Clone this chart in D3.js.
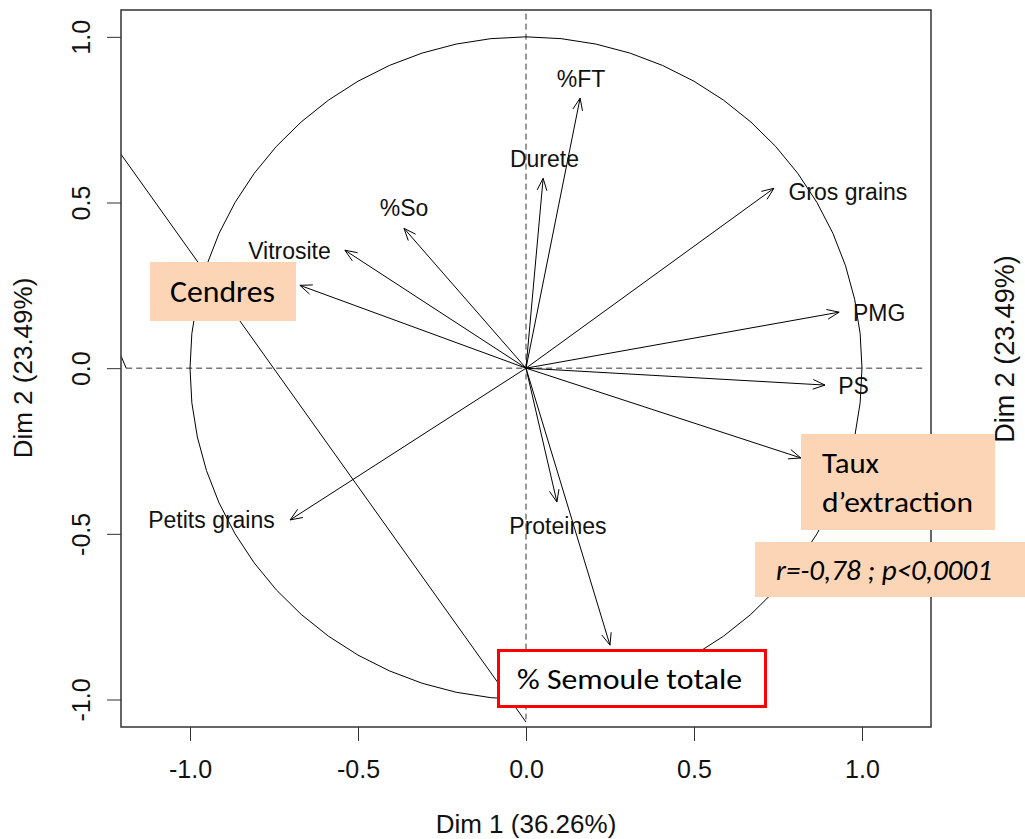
<!DOCTYPE html>
<html>
<head>
<meta charset="utf-8">
<script src="https://cdn.jsdelivr.net/npm/d3@7"></script>
<style>
  body { margin: 0; background: #fff; }
  svg { display: block; }
</style>
</head>
<body>
<div id="chart"></div>
<script>
// variables of the PCA correlation circle (arrow tips, Dim 1 / Dim 2)
const variables = ["%FT", "Durete", "%So", "Vitrosite", "Cendres", "Gros grains",
  "PMG", "PS", "Taux d'extraction", "Petits grains", "Proteines", "% Semoule totale"];
const dim1 = [0.161, 0.051, -0.363, -0.539, -0.673, 0.738, 0.932, 0.890, 0.818, -0.702, 0.092, 0.250];
const dim2 = [0.815, 0.573, 0.422, 0.356, 0.250, 0.543, 0.169, -0.051, -0.271, -0.458, -0.404, -0.836];

// where R wrote the variable names (null = hidden under a callout box)
const labelDim1 = [0.164, 0.055, -0.363, -0.704, null, 0.958, 1.051, 0.975, null, -0.936, 0.095, null];
const labelDim2 = [0.875, 0.633, 0.483, 0.353, null, 0.534, 0.166, -0.054, null, -0.458, -0.477, null];

const tickValues = [-1.0, -0.5, 0.0, 0.5, 1.0];
const tickLabels = ["-1.0", "-0.5", "0.0", "0.5", "1.0"];
const xTitle = "Dim 1 (36.26%)";
const yTitle = "Dim 2 (23.49%)";

// stray segments left over in the original figure
const strayX = [[-1.21, 0.0], [-1.21, -1.19]];
const strayY = [[0.652, -1.068], [0.048, 0.0]];

const w = 1025;
const h = 839;
const margin = {top: 10, right: 94, bottom: 112, left: 121};
const innerW = w - margin.left - margin.right;
const innerH = h - margin.top - margin.bottom;

const svg = d3.select("#chart").append("svg")
  .attr("width", w)
  .attr("height", h)
  .attr("viewBox", [0, 0, w, h]);

const g = svg.append("g")
  .attr("transform", "translate(" + margin.left + "," + margin.top + ")");

const xScale = d3.scaleLinear().domain([-1.2054, 1.2054]).range([0, innerW]);
const yScale = d3.scaleLinear().domain([-1.083, 1.081]).range([innerH, 0]);

svg.append("defs").append("clipPath").attr("id", "clip")
  .append("rect").attr("width", innerW).attr("height", innerH);

const plot = g.append("g").attr("clip-path", "url(#clip)");

// dashed axes through the origin
plot.append("line")
  .attr("x1", xScale(-1.19)).attr("x2", xScale(1.18))
  .attr("y1", yScale(0)).attr("y2", yScale(0))
  .attr("stroke", "#333").attr("stroke-dasharray", "6,4");
plot.append("line")
  .attr("x1", xScale(0)).attr("x2", xScale(0))
  .attr("y1", yScale(1.07)).attr("y2", yScale(-1.06))
  .attr("stroke", "#333").attr("stroke-dasharray", "6,4");

// unit circle (R draws it as a polygon)
const angles = d3.range(0, 361, 6).map(a => a * Math.PI / 180);
plot.append("path")
  .attr("d", d3.line().x(a => xScale(Math.cos(a))).y(a => yScale(Math.sin(a)))(angles))
  .attr("fill", "none").attr("stroke", "#000").attr("stroke-width", 1);

// stray lines
strayX.forEach((xs, i) => {
  plot.append("line")
    .attr("x1", xScale(xs[0])).attr("y1", yScale(strayY[i][0]))
    .attr("x2", xScale(xs[1])).attr("y2", yScale(strayY[i][1]))
    .attr("stroke", "#000").attr("stroke-width", 1);
});

// arrows
const head = 13, spread = 22 * Math.PI / 180;
variables.forEach((v, i) => {
  const x0 = xScale(0), y0 = yScale(0);
  const x1 = xScale(dim1[i]), y1 = yScale(dim2[i]);
  const ang = Math.atan2(y1 - y0, x1 - x0);
  plot.append("line")
    .attr("x1", x0).attr("y1", y0).attr("x2", x1).attr("y2", y1)
    .attr("stroke", "#000").attr("stroke-width", 1);
  plot.append("path")
    .attr("d", "M" + (x1 - head * Math.cos(ang - spread)) + "," + (y1 - head * Math.sin(ang - spread)) +
      "L" + x1 + "," + y1 +
      "L" + (x1 - head * Math.cos(ang + spread)) + "," + (y1 - head * Math.sin(ang + spread)))
    .attr("fill", "none").attr("stroke", "#000").attr("stroke-width", 1);
  if (labelDim1[i] !== null) {
    g.append("text")
      .attr("x", xScale(labelDim1[i]))
      .attr("y", yScale(labelDim2[i]))
      .attr("dy", "0.36em")
      .attr("text-anchor", "middle")
      .attr("font-family", "'Liberation Sans', Arial, sans-serif")
      .attr("font-size", 23)
      .attr("fill", "#111")
      .text(v);
  }
});

// frame
g.append("rect")
  .attr("width", innerW).attr("height", innerH)
  .attr("fill", "none").attr("stroke", "#333").attr("stroke-width", 1.5);

// axes
const xAxisG = g.append("g").attr("transform", "translate(0," + innerH + ")");
const yAxisG = g.append("g");
xAxisG.call(d3.axisBottom(xScale).tickValues(tickValues).tickFormat((d, i) => tickLabels[i]).tickSize(14));
yAxisG.call(d3.axisLeft(yScale).tickValues(tickValues).tickFormat((d, i) => tickLabels[i]).tickSize(14));
[xAxisG, yAxisG].forEach(a => {
  a.select(".domain").remove();
  a.selectAll(".tick line").attr("stroke", "#333");
  a.selectAll("text")
    .attr("font-family", "'Liberation Sans', Arial, sans-serif")
    .attr("font-size", 25)
    .attr("fill", "#111");
});
xAxisG.selectAll("text").attr("y", 51).attr("dy", 0);
yAxisG.selectAll("text")
  .attr("transform", "rotate(-90)")
  .attr("x", 0).attr("y", -31).attr("dy", 0)
  .attr("text-anchor", "middle");

// axis titles
svg.append("text")
  .attr("x", xScale(0) + margin.left).attr("y", 833)
  .attr("text-anchor", "middle")
  .attr("font-family", "'Liberation Sans', Arial, sans-serif")
  .attr("font-size", 26).attr("fill", "#111")
  .text(xTitle);
svg.append("text")
  .attr("transform", "translate(32," + 368 + ") rotate(-90)")
  .attr("text-anchor", "middle")
  .attr("font-family", "'Liberation Sans', Arial, sans-serif")
  .attr("font-size", 26).attr("fill", "#111")
  .text(yTitle);
svg.append("text")
  .attr("transform", "translate(1014," + 349 + ") rotate(-90)")
  .attr("text-anchor", "middle")
  .attr("font-family", "'Liberation Sans', Arial, sans-serif")
  .attr("font-size", 27).attr("fill", "#111")
  .text(yTitle);

// callout boxes pasted over the figure
const calloutFont = "Carlito, Calibri, Lato, 'Open Sans', sans-serif";
const peach = "#fbd5b5";

svg.append("rect").attr("x", 150).attr("y", 262).attr("width", 146).attr("height", 59).attr("fill", peach);
svg.append("text").attr("x", 170).attr("y", 302)
  .attr("font-family", calloutFont).attr("font-size", 30)
  .attr("textLength", 105).attr("lengthAdjust", "spacingAndGlyphs")
  .text("Cendres");

svg.append("rect").attr("x", 801).attr("y", 434).attr("width", 194).attr("height", 96).attr("fill", peach);
svg.append("text").attr("x", 822).attr("y", 473)
  .attr("font-family", calloutFont).attr("font-size", 28)
  .attr("textLength", 57).attr("lengthAdjust", "spacingAndGlyphs")
  .text("Taux");
svg.append("text").attr("x", 822).attr("y", 512)
  .attr("font-family", calloutFont).attr("font-size", 28)
  .attr("textLength", 151).attr("lengthAdjust", "spacingAndGlyphs")
  .text("d\u2019extraction");

svg.append("rect").attr("x", 755).attr("y", 542).attr("width", 270).attr("height", 55).attr("fill", peach);
svg.append("text").attr("x", 776).attr("y", 580)
  .attr("font-family", calloutFont).attr("font-size", 29).attr("font-style", "italic")
  .attr("textLength", 216).attr("lengthAdjust", "spacingAndGlyphs")
  .text("r=-0,78 ; p<0,0001");

svg.append("rect").attr("x", 498.5).attr("y", 650.5).attr("width", 267).attr("height", 56)
  .attr("fill", "#fff").attr("stroke", "#ff0000").attr("stroke-width", 3);
svg.append("text").attr("x", 517).attr("y", 689)
  .attr("font-family", calloutFont).attr("font-size", 29)
  .attr("textLength", 225).attr("lengthAdjust", "spacingAndGlyphs")
  .text("% Semoule totale");
</script>
</body>
</html>
